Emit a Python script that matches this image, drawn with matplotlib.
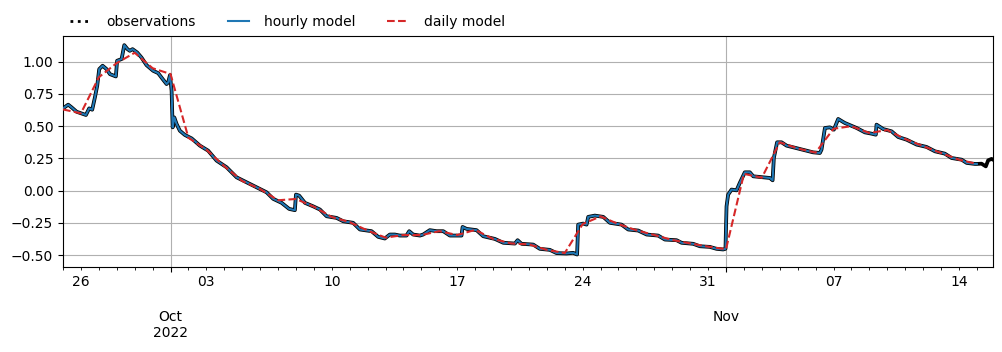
import numpy as np
import pandas as pd
import matplotlib
matplotlib.use("Agg")
import matplotlib.pyplot as plt
import matplotlib.dates as mdates
from matplotlib.lines import Line2D
from matplotlib.ticker import FuncFormatter

START = pd.Timestamp("2022-09-25 00:00")

OBS_DAYS = [
    0.00, 0.29, 0.48, 0.76, 1.28, 1.46, 1.63, 1.78, 1.91, 2.02, 2.21, 2.43, 2.62, 2.95,
    3.02, 3.27, 3.42, 3.60, 3.73, 3.88, 4.14, 4.38, 4.66, 5.03, 5.31, 5.56, 5.78, 5.87,
    5.97, 6.06, 6.12, 6.21, 6.34, 6.52, 6.80, 7.18, 7.64, 8.10, 8.57, 9.13, 9.69, 10.25,
    10.99, 11.36, 11.73, 12.20, 12.62, 12.94, 13.00, 13.18, 13.50, 13.96, 14.34, 14.71,
    15.27, 15.64, 16.19, 16.57, 17.22, 17.59, 17.96, 18.24, 18.52, 18.80, 19.17, 19.32,
    19.54, 19.92, 20.10, 20.47, 20.85, 21.22, 21.59, 22.24, 22.30, 22.52, 23.08, 23.45,
    24.10, 24.57, 25.22, 25.37, 25.59, 26.24, 26.61, 27.17, 27.54, 28.10, 28.47, 28.69,
    28.75, 29.03, 29.22, 29.31, 29.68, 30.15, 30.52, 31.17, 31.54, 32.10, 32.57, 33.21,
    33.59, 34.24, 34.52, 35.17, 35.54, 36.10, 36.47, 36.84, 36.97, 37.03, 37.12, 37.31,
    37.59, 37.77, 38.05, 38.33, 38.52, 39.07, 39.45, 39.60, 39.67, 39.85, 40.10, 40.38,
    41.12, 41.86, 42.24, 42.33, 42.52, 42.80, 43.02, 43.26, 43.63, 44.29, 44.75, 45.12,
    45.36, 45.40, 45.77, 46.24, 46.61, 47.08, 47.64, 48.19, 48.66, 49.21, 49.59, 50.15,
    50.43, 50.89, 51.00, 51.26, 51.50, 51.63, 51.82, 51.90,
]
OBS_LEVEL = [
    0.638, 0.667, 0.646, 0.612, 0.587, 0.638, 0.628, 0.723, 0.814, 0.943, 0.969, 0.943, 0.904, 0.886,
    1.008, 1.021, 1.129, 1.098, 1.085, 1.098, 1.072, 1.033, 0.974, 0.930, 0.912, 0.866, 0.827, 0.840,
    0.897, 0.775, 0.491, 0.568, 0.517, 0.465, 0.432, 0.405, 0.349, 0.310, 0.233, 0.181, 0.103, 0.064,
    0.013, -0.013, -0.064, -0.095, -0.142, -0.152, -0.031, -0.039, -0.095, -0.122, -0.147, -0.199,
    -0.212, -0.238, -0.250, -0.302, -0.315, -0.359, -0.372, -0.341, -0.341, -0.349, -0.349, -0.315,
    -0.341, -0.349, -0.341, -0.307, -0.315, -0.315, -0.349, -0.349, -0.282, -0.297, -0.307, -0.354,
    -0.375, -0.405, -0.411, -0.385, -0.413, -0.419, -0.452, -0.460, -0.485, -0.488, -0.483, -0.496,
    -0.264, -0.256, -0.264, -0.204, -0.194, -0.204, -0.250, -0.264, -0.302, -0.310, -0.341, -0.349,
    -0.380, -0.385, -0.405, -0.413, -0.432, -0.437, -0.452, -0.457, -0.452, -0.122, -0.031, 0.008,
    0.002, 0.060, 0.142, 0.142, 0.111, 0.103, 0.098, 0.080, 0.253, 0.375, 0.375, 0.349,
    0.323, 0.297, 0.292, 0.318, 0.486, 0.491, 0.473, 0.556, 0.525, 0.486, 0.452, 0.442,
    0.434, 0.512, 0.478, 0.460, 0.416, 0.395, 0.357, 0.339, 0.305, 0.287, 0.253, 0.240,
    0.215, 0.207, 0.207, 0.209, 0.188, 0.235, 0.246, 0.240,
]

# hourly model runs on top of the observations and stops earlier
HOURLY_END_DAY = 51.0

# daily model, one value per day at midnight
DAILY_LEVEL = [
    0.63, 0.60, 0.88, 0.99, 1.07, 0.95, 0.905, 0.41, 0.318, 0.19, 0.075, 0.012, -0.075,
    -0.065, -0.125, -0.205, -0.245, -0.31, -0.365, -0.345, -0.345, -0.315, -0.345, -0.305,
    -0.375, -0.41, -0.417, -0.46, -0.485, -0.26, -0.20, -0.26, -0.308, -0.345, -0.383,
    -0.41, -0.435, -0.455, 0.13, 0.10, 0.375, 0.327, 0.295, 0.48, 0.50, 0.447, 0.47,
    0.40, 0.345, 0.292, 0.24, 0.207,
]

obs_t = START + pd.to_timedelta(OBS_DAYS, unit="D")
n_hourly = sum(d <= HOURLY_END_DAY for d in OBS_DAYS)
daily_t = START + pd.to_timedelta(np.arange(len(DAILY_LEVEL)), unit="D")

fig = plt.figure(figsize=(10.02, 3.52), dpi=100)
ax = fig.add_axes([63 / 1002, 85 / 352, 930 / 1002, 231 / 352])

ax.plot(obs_t, OBS_LEVEL, color="k", lw=2.7, solid_joinstyle="round", zorder=2)
hourly, = ax.plot(obs_t[:n_hourly], OBS_LEVEL[:n_hourly], color="tab:blue", lw=1.5,
                  zorder=3, label="hourly model")
daily, = ax.plot(daily_t, DAILY_LEVEL, color="tab:red", ls="--", lw=1.5, zorder=4,
                 label="daily model")

ax.set_xlim(obs_t[0], obs_t[-1])
ax.set_ylim(-0.593, 1.2)
ax.set_yticks(np.arange(-0.5, 1.01, 0.25))


def month_label(x, pos):
    d = mdates.num2date(x)
    s = d.strftime("%b")
    if x - 31 < ax.get_xlim()[0] or d.month == 1:
        s += "\n" + d.strftime("%Y")
    return s


def day_label(x, pos):
    d = mdates.num2date(x)
    return d.strftime("%d") if d.weekday() == 0 else ""


ax.xaxis.set_major_locator(mdates.MonthLocator())
ax.xaxis.set_major_formatter(FuncFormatter(month_label))
ax.xaxis.set_minor_locator(mdates.DayLocator())
ax.xaxis.set_minor_formatter(FuncFormatter(day_label))
# month labels sit two lines below the day labels
ax.tick_params(axis="x", which="major", pad=27.5)
ax.grid(True)

obs_handle = Line2D([], [], color="k", ls=":", lw=2.0, label="observations")
ax.legend(handles=[obs_handle, hourly, daily], loc="lower left",
          bbox_to_anchor=(-0.0054, 0.978), ncol=3, frameon=False,
          handlelength=1.5, handletextpad=1.1, columnspacing=2.3)

fig.savefig("out.png", dpi=100)
